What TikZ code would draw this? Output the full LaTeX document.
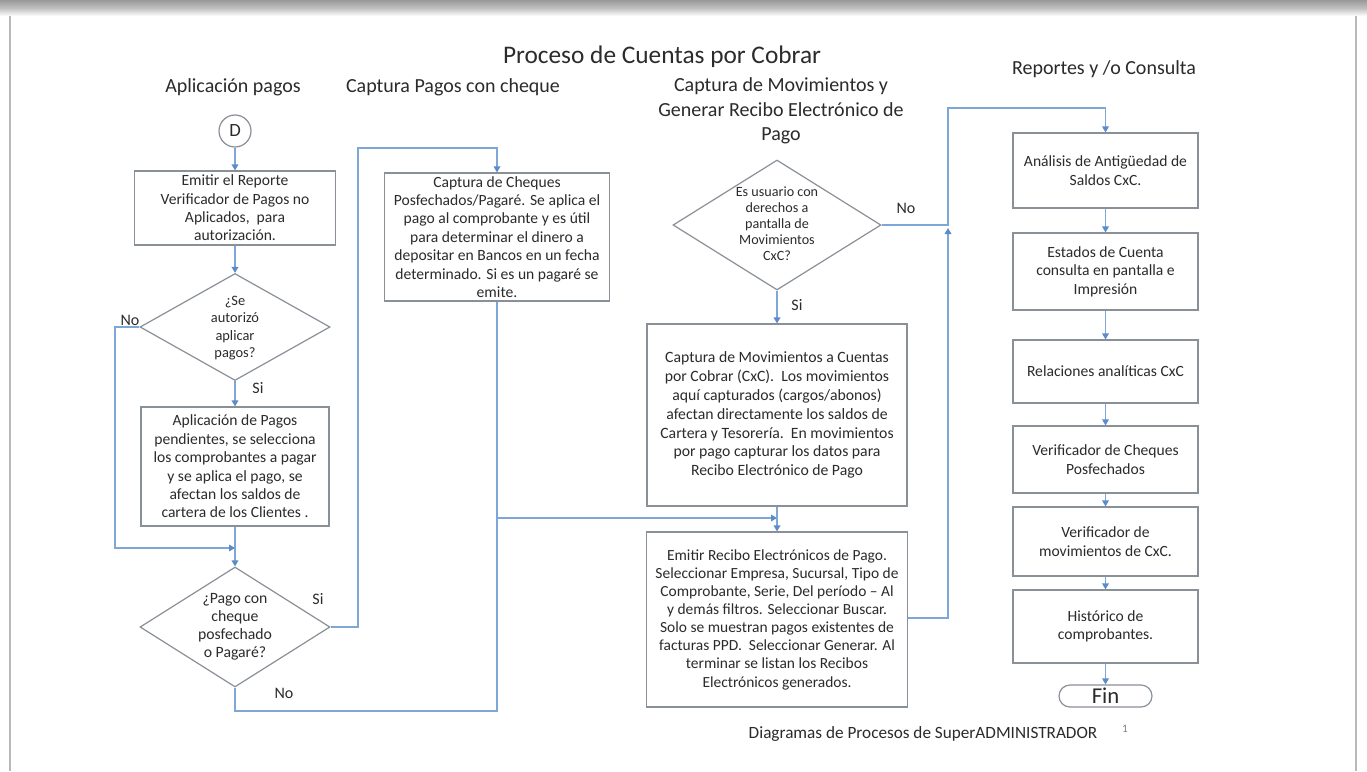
\documentclass[tikz,border=0pt]{standalone}
\usepackage{fontspec}
\setmainfont{Carlito}
\usetikzlibrary{arrows.meta,shapes.geometric}
\definecolor{ln}{HTML}{7EA6D8}
\definecolor{ah}{HTML}{5B8BC9}
\definecolor{bd}{HTML}{8A9098}
\definecolor{tx}{HTML}{2B2B2B}
\begin{document}
\begin{tikzpicture}[x=0.75pt,y=-0.75pt,
 wh/.style 2 args={minimum width=#1*0.75pt, minimum height=#2*0.75pt},
 box/.style={draw=bd,line width=0.9pt,fill=white,inner sep=0pt,align=center,text=tx,font=\fontsize{11.7}{13.8}\selectfont},
 dia/.style={draw=bd,line width=0.9pt,shape=diamond,inner sep=0pt,fill=white},
 dtext/.style={align=center,text=tx,font=\fontsize{10.8}{13}\selectfont},
 conn/.style={draw=ln,line width=0.9pt},
 arr/.style={conn,-{Triangle[width=5pt,length=4.5pt,color=ah]}},
 lbl/.style={text=tx,font=\fontsize{12}{14}\selectfont},
 hdr/.style={text=tx,align=center,font=\fontsize{15}{18.4}\selectfont}]
\useasboundingbox (0,0) rectangle (1367,771);
\fill[white] (0,0) rectangle (1367,771);
% slide frame
\shade[top color=gray!80, bottom color=gray!50] (0,0) rectangle (1367,8);
\shade[top color=gray!50, bottom color=white] (0,8) rectangle (1367,16);
\draw[gray!55, line width=1.2pt] (10,16) -- (10,771);
\draw[gray!55, line width=1.2pt] (1356,16) -- (1356,771);

% titles
\node[text=tx,font=\fontsize{19}{22}\selectfont] (title) at (662,57) {Proceso de Cuentas por Cobrar};
\node[hdr] (h1) at (233,87) {Aplicación pagos};
\node[hdr] (h2) at (453,87) {Captura Pagos con cheque};
\node[hdr] (h3) at (781,111) {Captura de Movimientos y\\Generar Recibo Electrónico de\\Pago};
\node[hdr] (h4) at (1104,69) {Reportes y /o Consulta};

% column 1
\node[draw=bd,line width=0.9pt,circle,minimum size=32*0.75pt,inner sep=0pt,text=tx,font=\fontsize{14}{16}\selectfont] (D) at (235,131) {D};
\node[box,wh={201}{74}] (b1) at (235,208) {Emitir el Reporte\\Verificador de Pagos no\\Aplicados,\ \ para\\autorización.};
\node[dia,wh={190}{107}] (d1) at (235,327) {};
\node[dtext] (d1t) at (235,328) {¿Se\\autorizó\\aplicar\\pagos?};
\node[box,wh={188}{119}] (b2) at (235,466.5) {Aplicación de Pagos\\pendientes, se selecciona\\los comprobantes a pagar\\y se aplica el pago, se\\afectan los saldos de\\cartera de los Clientes .};
\node[dia,wh={190}{120}] (d2) at (235,627) {};
\node[dtext,font=\fontsize{11.8}{13.6}\selectfont] (d2t) at (235,627) {¿Pago con\\cheque\\posfechado\\o Pagaré?};

% column 2
\node[box,wh={225}{128}] (b3) at (497,237) {Captura de Cheques\\Posfechados/Pagaré. Se aplica el\\pago al comprobante y es útil\\para determinar el dinero a\\depositar en Bancos en un fecha\\determinado. Si es un pagaré se\\emite.};

% column 3
\node[dia,wh={208}{130}] (d3) at (777,225) {};
\node[dtext,font=\fontsize{10.6}{12}\selectfont] (d3t) at (777,224) {Es usuario con\\derechos a\\pantalla de\\Movimientos\\CxC?};
\node[box,wh={260}{182},font=\fontsize{11.8}{14.2}\selectfont] (b4) at (777,415) {Captura de Movimientos a Cuentas\\por Cobrar (CxC).\ \ Los movimientos\\aquí capturados (cargos/abonos)\\afectan directamente los saldos de\\Cartera y Tesorería.\ \ En movimientos\\por pago capturar los datos para\\Recibo Electrónico de Pago};
\node[box,wh={261}{175},font=\fontsize{11.6}{13.6}\selectfont] (b5) at (777,619.5) {Emitir Recibo Electrónicos de Pago.\\Seleccionar Empresa, Sucursal, Tipo de\\Comprobante, Serie, Del período – Al\\y demás filtros. Seleccionar Buscar.\\Solo se muestran pagos existentes de\\facturas PPD.\ \ Seleccionar Generar. Al\\terminar se listan los Recibos\\Electrónicos generados.};

% column 4
\node[box,wh={185}{75}] (r1) at (1105.5,170.5) {Análisis de Antigüedad de\\Saldos CxC.};
\node[box,wh={185}{77}] (r2) at (1105.5,271.5) {Estados de Cuenta\\consulta en pantalla e\\Impresión};
\node[box,wh={185}{63}] (r3) at (1105.5,371.5) {Relaciones analíticas CxC};
\node[box,wh={185}{67}] (r4) at (1105.5,459.5) {Verificador de Cheques\\Posfechados};
\node[box,wh={185}{69}] (r5) at (1105.5,541.5) {Verificador de\\movimientos de CxC.};
\node[box,wh={185}{73}] (r6) at (1105.5,626.5) {Histórico de\\comprobantes.};
\node[draw=bd,line width=0.9pt,rounded corners=11*0.75pt,wh={93}{22},inner sep=0pt,text=tx,font=\fontsize{17}{17}\selectfont] (fin) at (1105.5,696) {Fin};

% junction coordinates
\coordinate (j1) at (235,548);
\coordinate (j2) at (777,518);
\coordinate (j3) at (948,228);

% connectors column 1
\draw[arr] (D) -- (b1);
\draw[arr] (b1) -- (d1);
\draw[arr] (d1.south) -- (b2.north);
\draw[arr] (b2.south) -- (d2.north);
\draw[arr] (d1.west) -- (115,327) -- (115,548) -- (j1);
\draw[arr] (d2.east) -- (358,627) -- (358,148) -- (497,148) -- (b3.north);
\draw[conn] (d2.south) -- (235,711) -- (497,711) -- (497,518);
\draw[arr] (b3.south) -- (497,518) -- (j2);

% column 3
\draw[arr] (d3.south) -- (b4.north);
\draw[arr] (b4.south) -- (b5.north);
\draw[arr] (d3.east) -- (948,225) -- (948,108) -- (1105.5,108) -- (r1.north);
\draw[arr] (b5.east |- 0,618) -- (948,618) -- (j3);

% column 4
\draw[arr] (r1) -- (r2);
\draw[arr] (r2) -- (r3);
\draw[arr] (r3) -- (r4);
\draw[arr] (r4) -- (r5);
\draw[arr] (r5) -- (r6);
\draw[arr] (r6) -- (fin);

% labels
\node[lbl] (l1) at (130,320) {No};
\node[lbl] (l2) at (258,388) {Si};
\node[lbl] (l3) at (318,599) {Si};
\node[lbl] (l4) at (284,693) {No};
\node[lbl] (l5) at (797,305) {Si};
\node[lbl] (l6) at (906,208) {No};

% footer
\node[text=tx,font=\fontsize{12.9}{15}\selectfont] (foot) at (923,734) {Diagramas de Procesos de SuperADMINISTRADOR};
\node[text=gray,font=\fontsize{8.5}{10}\selectfont] (pg) at (1125,729) {1};
\end{tikzpicture}
\end{document}
